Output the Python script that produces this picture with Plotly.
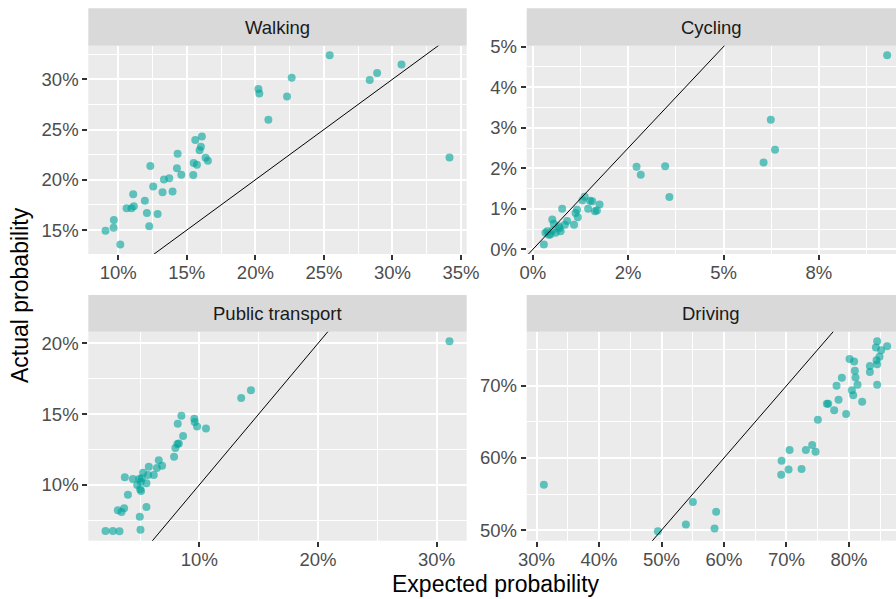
import plotly.graph_objects as go

# ---- data (probabilities in percent) ----
walk_expected = [25.42, 30.66, 28.88, 28.34, 22.65, 20.22, 20.29, 22.31, 20.95, 34.16,
                 16.10, 15.62, 16.03, 15.93, 14.33, 16.37, 16.54, 15.50, 15.74, 14.28,
                 12.34, 14.60, 15.47, 13.33, 13.72, 12.55, 11.09, 13.23, 13.96, 11.94,
                 10.61, 10.97, 11.14, 12.09, 12.87, 9.68, 9.66, 9.07, 12.26, 10.15]
walk_actual = [32.40, 31.48, 30.62, 29.93, 30.16, 29.04, 28.58, 28.28, 25.98, 22.22,
               24.30, 23.97, 23.28, 22.94, 22.59, 22.19, 21.90, 21.66, 21.50, 21.14,
               21.37, 20.51, 20.47, 20.02, 20.15, 19.33, 18.57, 18.76, 18.83, 17.91,
               17.18, 17.18, 17.38, 16.69, 16.59, 16.00, 15.24, 14.94, 15.38, 13.56]

cyc_expected = [9.29, 6.24, 6.35, 6.05, 2.72, 3.47, 2.83, 3.58,
                1.36, 1.30, 1.50, 1.56, 1.75, 1.45, 1.63, 1.68,
                0.77, 1.16, 1.12, 1.18, 1.08, 0.90, 0.84,
                0.51, 0.55, 0.68, 0.70, 0.38, 0.33, 0.46, 0.60, 0.73, 0.29, 0.42, 0.52]
cyc_actual = [4.79, 3.20, 2.46, 2.14, 2.04, 2.05, 1.84, 1.29,
              1.30, 1.21, 1.20, 1.19, 1.11, 1.00, 0.94, 0.96,
              1.00, 0.98, 0.90, 0.79, 0.61, 0.70, 0.61,
              0.74, 0.63, 0.57, 0.52, 0.45, 0.41, 0.37, 0.41, 0.45, 0.12, 0.36, 0.47]

pt_expected = [31.09, 14.35, 13.53, 8.49, 9.58, 9.61, 9.81, 10.56, 8.18, 8.63,
               8.27, 8.15, 7.98, 7.87, 6.58, 6.86, 6.42, 5.74, 5.26, 6.16,
               5.68, 5.15, 3.72, 4.40, 4.76, 5.54, 5.01, 5.09, 3.98, 3.13,
               3.66, 3.44, 5.54, 4.98, 5.04, 2.09, 2.71, 3.27, 4.93, 5.07]
pt_actual = [20.16, 16.69, 16.15, 14.88, 14.67, 14.44, 14.13, 13.99, 14.32, 13.45,
             12.93, 12.88, 12.60, 11.98, 11.73, 11.35, 11.19, 11.28, 10.85, 10.69,
             10.69, 10.46, 10.53, 10.41, 9.99, 10.11, 9.68, 9.56, 9.30, 8.20,
             8.34, 8.08, 8.43, 7.75, 6.83, 6.74, 6.74, 6.72, 10.41, 10.22]

drive_expected = [31.17, 49.42, 53.90, 55.02, 58.75, 58.49, 69.22, 69.16, 70.50, 70.34,
                  72.42, 73.11, 74.12, 74.66, 75.03, 76.47, 76.68, 77.64, 78.34, 78.02,
                  78.87, 79.56, 80.10, 80.84, 80.95, 81.06, 81.38, 80.47, 80.69, 82.12,
                  83.36, 83.36, 84.52, 84.31, 85.16, 86.12, 84.90, 84.42, 84.52, 84.52]
drive_actual = [56.30, 49.86, 50.79, 53.92, 52.54, 50.23, 59.61, 57.68, 61.09, 58.41,
                58.47, 61.09, 61.78, 60.86, 65.31, 67.52, 67.52, 66.60, 68.07, 70.00,
                71.10, 66.10, 73.72, 73.36, 72.07, 71.16, 70.14, 69.37, 68.68, 67.79,
                72.72, 71.89, 76.17, 75.29, 74.92, 75.48, 74.00, 73.54, 72.99, 70.14]

panel_titles = ["Walking", "Cycling", "Public transport", "Driving"]

walk_xbreaks = [10, 15, 20, 25, 30, 35]
walk_ybreaks = [15, 20, 25, 30]
cyc_xbreaks = [0, 2.5, 5, 7.5]
cyc_xlabels = ["0%", "2%", "5%", "8%"]
cyc_ybreaks = [0, 1, 2, 3, 4, 5]
pt_xbreaks = [10, 20, 30]
pt_ybreaks = [10, 15, 20]
drive_xbreaks = [30, 40, 50, 60, 70, 80]
drive_ybreaks = [50, 60, 70]

# ---- layout geometry (pixels) ----
W, H = 896, 599
COLS = [(88.3, 466.7), (526.7, 896.0)]
ROWS = [(8.3, 45.7, 254.0), (295.0, 331.7, 540.7)]   # strip top, panel top, panel bottom
RIGHT_CROP = 0.978   # right-hand column is clipped by the page edge

FONT = "Liberation Sans, Arial, Helvetica, sans-serif"
TICK_FONT = dict(family=FONT, size=18.5, color="#4D4D4D")
POINT_COLOR = "rgba(0,163,153,0.6)"


def expand(vals, crop=1.0):
    lo, hi = min(vals), max(vals)
    pad = 0.05 * (hi - lo)
    lo, hi = lo - pad, hi + pad
    return [lo, lo + (hi - lo) * crop]


def minor_breaks(breaks):
    step = breaks[1] - breaks[0]
    return [b - step / 2 for b in breaks] + [breaks[-1] + step / 2]


def pct(breaks):
    return [f"{b:g}%" for b in breaks]


panels = [
    (walk_expected, walk_actual, walk_xbreaks, pct(walk_xbreaks), walk_ybreaks),
    (cyc_expected, cyc_actual, cyc_xbreaks, cyc_xlabels, cyc_ybreaks),
    (pt_expected, pt_actual, pt_xbreaks, pct(pt_xbreaks), pt_ybreaks),
    (drive_expected, drive_actual, drive_xbreaks, pct(drive_xbreaks), drive_ybreaks),
]

fig = go.Figure()
shapes, annotations = [], []

for i, (xs, ys, xb, xl, yb) in enumerate(panels):
    row, col = divmod(i, 2)
    sfx = "" if i == 0 else str(i + 1)
    x0, x1 = COLS[col]
    s_top, p_top, p_bot = ROWS[row]
    crop = RIGHT_CROP if col == 1 else 1.0
    xr = expand(xs, crop)
    yr = expand(ys)

    axis_common = dict(
        showgrid=True, gridcolor="white", gridwidth=2,
        zeroline=False, showline=False, automargin=False,
        ticks="outside", ticklen=5, tickwidth=1.5, tickcolor="#333333",
        tickfont=TICK_FONT, fixedrange=True,
    )
    fig.layout["xaxis" + sfx] = dict(
        axis_common,
        domain=[x0 / W, x1 / W], range=xr,
        anchor="y" + sfx, ticklabelstandoff=-3,
        tickmode="array", tickvals=xb, ticktext=xl,
        minor=dict(tickvals=minor_breaks(xb), showgrid=True,
                   gridcolor="white", gridwidth=1, ticks=""),
    )
    fig.layout["yaxis" + sfx] = dict(
        axis_common,
        domain=[1 - p_bot / H, 1 - p_top / H], range=yr,
        anchor="x" + sfx,
        tickmode="array", tickvals=yb, ticktext=pct(yb),
        minor=dict(tickvals=minor_breaks(yb), showgrid=True,
                   gridcolor="white", gridwidth=1, ticks=""),
    )

    fig.add_trace(go.Scatter(
        x=xs, y=ys, mode="markers",
        marker=dict(size=8, color=POINT_COLOR, line=dict(width=0)),
        xaxis="x" + sfx, yaxis="y" + sfx, hoverinfo="skip",
    ))
    # identity line y = x across the panel
    lo = min(xr[0], yr[0])
    hi = max(xr[1], yr[1])
    fig.add_trace(go.Scatter(
        x=[lo, hi], y=[lo, hi], mode="lines",
        line=dict(color="black", width=1),
        xaxis="x" + sfx, yaxis="y" + sfx, hoverinfo="skip",
    ))

    # facet strip
    shapes.append(dict(
        type="rect", xref="paper", yref="paper",
        x0=x0 / W, x1=x1 / W, y0=1 - p_top / H, y1=1 - s_top / H,
        fillcolor="#D9D9D9", line=dict(width=0), layer="below",
    ))
    annotations.append(dict(
        text=panel_titles[i], xref="paper", yref="paper",
        x=(x0 + x1) / 2 / W, y=1 - (s_top + p_top) / 2 / H,
        xanchor="center", yanchor="middle", showarrow=False,
        font=dict(family=FONT, size=18.5, color="#1A1A1A"),
    ))

annotations.append(dict(
    text="Expected probability", xref="paper", yref="paper",
    x=496 / W, y=1 - 584 / H, xanchor="center", yanchor="middle",
    showarrow=False, font=dict(family=FONT, size=23, color="black"),
))
annotations.append(dict(
    text="Actual probability", xref="paper", yref="paper",
    x=20 / W, y=1 - 295 / H, xanchor="center", yanchor="middle",
    textangle=-90, showarrow=False,
    font=dict(family=FONT, size=23, color="black"),
))

fig.update_layout(
    template="none",
    width=W, height=H,
    margin=dict(l=0, r=0, t=0, b=0, autoexpand=False),
    paper_bgcolor="white", plot_bgcolor="#EBEBEB",
    font=dict(family=FONT, color="#4D4D4D"),
    showlegend=False,
    shapes=shapes, annotations=annotations,
)

# remove the default page margin so the figure fills the window exactly
page_css = ("document.documentElement.style.margin='0';"
            "document.body.style.margin='0';"
            "document.body.style.overflow='hidden';")
fig.write_html("out.html", config={"displayModeBar": False}, post_script=page_css)
